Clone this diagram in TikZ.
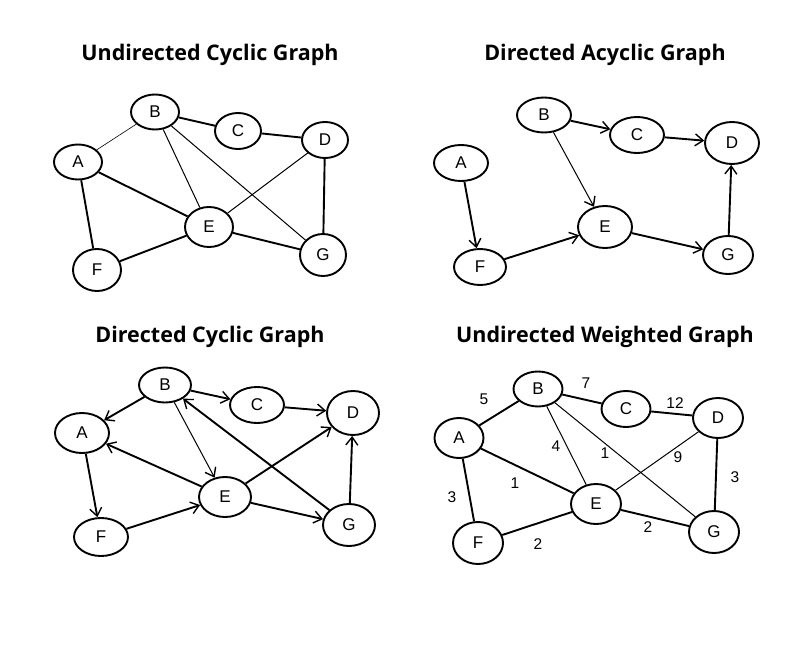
\documentclass[tikz,border=0pt]{standalone}
\usepackage{fontspec}
\setmainfont{Liberation Sans}
\newfontfamily\titlefont{Open Sans}
\usetikzlibrary{shapes.geometric,arrows.meta}
\tikzset{
  vtx/.style={ellipse,draw,line width=1.9pt,inner sep=0pt,font=\fontsize{17}{17}\selectfont},
  ttl/.style={font=\titlefont\bfseries\fontsize{21.5}{21.5}\selectfont},
  thk/.style={line width=1.9pt},
  thn/.style={line width=1pt},
  hair/.style={line width=0.6pt},
  arr/.style={-{Straight Barb[length=8pt,width=12pt,line width=1.4pt]}},
  wt/.style={font=\fontsize{15.5}{15.5}\selectfont},
}
\begin{document}
\begin{tikzpicture}[x=1pt,y=-1pt]
\useasboundingbox[fill=white] (0,0) rectangle (800,650);
% ---------- Quadrant 1 ----------
\node[ttl] (t1) at (210,55) {Undirected Cyclic Graph};
\node[vtx,minimum width=48pt,minimum height=35pt] (a1) at (78,162) {A};
\node[vtx,minimum width=48pt,minimum height=35pt] (b1) at (155,112) {B};
\node[vtx,minimum width=46pt,minimum height=36pt] (c1) at (238,131) {C};
\node[vtx,minimum width=46pt,minimum height=36pt] (d1) at (325,140) {D};
\node[vtx,minimum width=48pt,minimum height=40pt] (e1) at (209,227) {E};
\node[vtx,minimum width=48pt,minimum height=42pt] (f1) at (97,270) {F};
\node[vtx,minimum width=46pt,minimum height=42pt] (g1) at (323,255) {G};
\draw[hair] (a1) -- (b1);
\draw[thk] (b1) -- (c1);
\draw[thk] (c1) -- (d1);
\draw[thn] (b1) -- (e1);
\draw[thn] (b1) -- (g1);
\draw[thk] (a1) -- (e1);
\draw[thk] (a1) -- (f1);
\draw[thk] (f1) -- (e1);
\draw[thn] (e1) -- (d1);
\draw[thk] (e1) -- (g1);
\draw[thk] (d1) -- (g1);
% ---------- Quadrant 2 ----------
\node[ttl] (t2) at (605,55) {Directed Acyclic Graph};
\node[vtx,minimum width=54pt,minimum height=36pt] (a2) at (461,163) {A};
\node[vtx,minimum width=54pt,minimum height=35pt] (b2) at (544,115) {B};
\node[vtx,minimum width=54pt,minimum height=36pt] (c2) at (637,135) {C};
\node[vtx,minimum width=54pt,minimum height=42pt] (d2) at (732,143) {D};
\node[vtx,minimum width=54pt,minimum height=42pt] (e2) at (605,227) {E};
\node[vtx,minimum width=52pt,minimum height=36pt] (f2) at (480,267) {F};
\node[vtx,minimum width=50pt,minimum height=38pt] (g2) at (728,255) {G};
\draw[thk,arr] (b2) -- (c2);
\draw[thk,arr] (c2) -- (d2);
\draw[thn,arr] (b2) -- (e2);
\draw[thk,arr] (a2) -- (f2);
\draw[thk,arr] (f2) -- (e2);
\draw[thk,arr] (e2) -- (g2);
\draw[thk,arr] (g2) -- (d2);
% ---------- Quadrant 3 ----------
\node[ttl] (t3) at (210,337) {Directed Cyclic Graph};
\node[vtx,minimum width=54pt,minimum height=40pt] (a3) at (82,433) {A};
\node[vtx,minimum width=52pt,minimum height=35pt] (b3) at (165,385) {B};
\node[vtx,minimum width=54pt,minimum height=36pt] (c3) at (257,405) {C};
\node[vtx,minimum width=52pt,minimum height=44pt] (d3) at (353,413) {D};
\node[vtx,minimum width=52pt,minimum height=40pt] (e3) at (225,497) {E};
\node[vtx,minimum width=54pt,minimum height=38pt] (f3) at (101,537) {F};
\node[vtx,minimum width=52pt,minimum height=42pt] (g3) at (349,525) {G};
\draw[thk,arr] (b3) -- (a3);
\draw[thk,arr] (b3) -- (c3);
\draw[thk,arr] (c3) -- (d3);
\draw[thn,arr] (b3) -- (e3);
\draw[thk,arr] (e3) -- (a3);
\draw[thk,arr] (a3) -- (f3);
\draw[thk,arr] (f3) -- (e3);
\draw[thk,arr] (e3) -- (d3);
\draw[thk,arr] (e3) -- (g3);
\draw[thk,arr] (g3) -- (b3);
\draw[thk,arr] (g3) -- (d3);
% ---------- Quadrant 4 ----------
\node[ttl] (t4) at (605,337) {Undirected Weighted Graph};
\node[vtx,minimum width=49pt,minimum height=40pt] (a4) at (459,438) {A};
\node[vtx,minimum width=49pt,minimum height=35pt] (b4) at (538,389) {B};
\node[vtx,minimum width=49pt,minimum height=36pt] (c4) at (626,409) {C};
\node[vtx,minimum width=50pt,minimum height=40pt] (d4) at (718,418) {D};
\node[vtx,minimum width=50pt,minimum height=40pt] (e4) at (596,504) {E};
\node[vtx,minimum width=50pt,minimum height=42pt] (f4) at (478,543) {F};
\node[vtx,minimum width=50pt,minimum height=42pt] (g4) at (714,532) {G};
\draw[thk] (a4) -- (b4);
\draw[thk] (b4) -- (c4);
\draw[thk] (c4) -- (d4);
\draw[thn] (b4) -- (e4);
\draw[thn] (b4) -- (g4);
\draw[thk] (a4) -- (e4);
\draw[thk] (a4) -- (f4);
\draw[thk] (f4) -- (e4);
\draw[thn] (e4) -- (d4);
\draw[thk] (e4) -- (g4);
\draw[thk] (d4) -- (g4);
\node[wt] (w1) at (484,399) {5};
\node[wt] (w2) at (586,383) {7};
\node[wt] (w3) at (675,403) {12};
\node[wt] (w4) at (556,446) {4};
\node[wt] (w5) at (605,453) {1};
\node[wt] (w6) at (678,457) {9};
\node[wt] (w7) at (735,477) {3};
\node[wt] (w8) at (515,483) {1};
\node[wt] (w9) at (452,497) {3};
\node[wt] (w10) at (648,527) {2};
\node[wt] (w11) at (538,544) {2};
\end{tikzpicture}
\end{document}
